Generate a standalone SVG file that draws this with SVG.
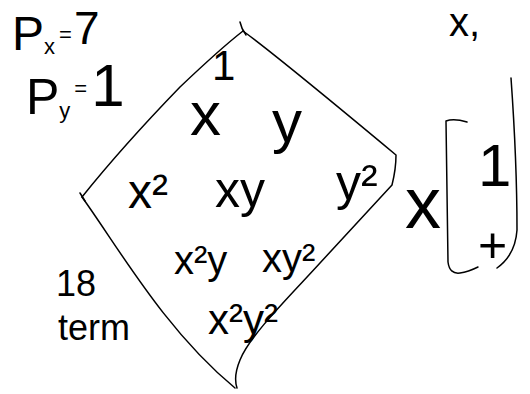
<svg xmlns="http://www.w3.org/2000/svg" width="530" height="394" viewBox="0 0 530 394">
<style>
.ink{fill:none;stroke:#000;stroke-width:1.5;stroke-linecap:round;stroke-linejoin:round}
text{font-family:"Liberation Sans",Arial,sans-serif;fill:#000;font-weight:normal}
</style>
<rect width="530" height="394" fill="#fff"/>
<g id="diamond">
<path class="ink" d="M243,31 C225,45 200,68 180,87 C150,118 110,162 82,197"/>
<path class="ink" d="M243,31 C265,47 330,100 396,155 C396,166 394,177 392,185 L320,263 C290,296 250,335 240,360 C235,372 235,382 237,388"/>
<path class="ink" d="M82,197 C120,250 165,330 235,388"/>
<path class="ink" d="M240,22 C241,27 243,31 246,35"/>
<path class="ink" d="M80,193 L85,201"/>
</g>
<g id="terms">
<text x="212" y="80" font-size="42">1</text>
<text x="190" y="135" font-size="62">x</text>
<text x="272" y="142" font-size="60">y</text>
<text x="128" y="208" font-size="48">x²</text>
<text x="215" y="207" font-size="50">xy</text>
<text x="336" y="200" font-size="50">y²</text>
<text x="174" y="274" font-size="40">x²y</text>
<text x="262" y="272" font-size="40">xy²</text>
<text x="208" y="334" font-size="42">x²y²</text>
</g>
<g id="params">
<text x="12" y="50" font-size="48">P<tspan font-size="22" dy="4">x</tspan><tspan font-size="22" dx="4" dy="-12">=</tspan><tspan font-size="46" dx="2" dy="2">7</tspan></text>
<text x="26" y="114" font-size="50">P<tspan font-size="22" dy="4">y</tspan><tspan font-size="22" dx="4" dy="-22">=</tspan><tspan font-size="60" dx="4" dy="10">1</tspan></text>
</g>
<g id="count">
<text x="56" y="296" font-size="36">18</text>
<text x="58" y="340" font-size="36">term</text>
</g>
<g id="vector">
<text x="449" y="36" font-size="40">x,</text>
<text x="405" y="228" font-size="72">x</text>
<path class="ink" d="M467,122 C460,120 452,119 446,121 L448,262 C449,270 453,274 460,273 C468,272 474,269 478,267"/>
<path class="ink" d="M511,78 C514,120 517,180 517,230 C516,245 511,258 497,268"/>
<text x="478" y="186" font-size="60">1</text>
<text x="478" y="262" font-size="50">+</text>
</g>
</svg>
